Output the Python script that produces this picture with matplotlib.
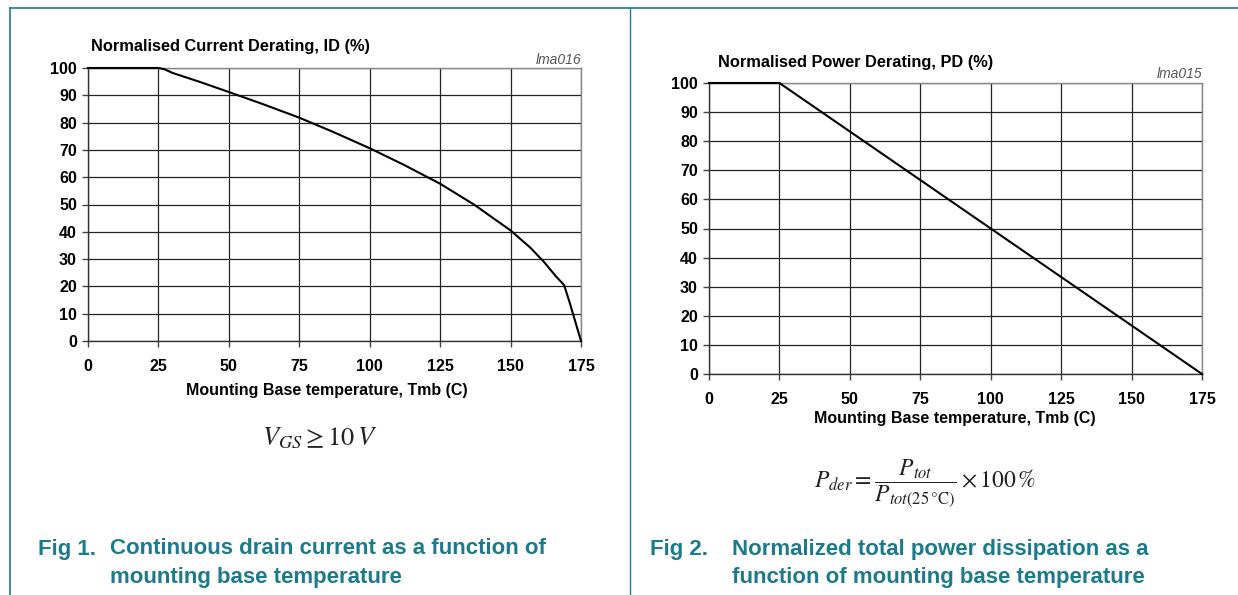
import matplotlib
matplotlib.use("Agg")
import matplotlib.pyplot as plt
from matplotlib.lines import Line2D

plt.rcParams['font.family'] = ['Liberation Sans', 'DejaVu Sans']
plt.rcParams['mathtext.fontset'] = 'stix'

# Data
temp_id = [0, 10, 20, 25, 27, 30, 40, 50, 62, 75, 87, 100, 112, 125, 137, 150, 157, 162, 166, 169, 171, 173, 175]
id_pct = [100, 100, 100, 100, 99.6, 98.2, 94.8, 91.2, 86.8, 81.8, 76.6, 70.6, 64.6, 57.6, 50, 40.5, 34.2, 28.8, 23.8, 20.5, 14, 7, 0]
temp_pd = [0, 25, 175]
pd_pct = [100, 100, 0]
xticks = [0, 25, 50, 75, 100, 125, 150, 175]
yticks = [0, 10, 20, 30, 40, 50, 60, 70, 80, 90, 100]

TEAL = '#1b7a8c'
W, H = 1238, 595
fig = plt.figure(figsize=(W / 100, H / 100), dpi=100)

def fx(px):
    return px / W

def fy(py):
    return 1 - py / H

def make_axes(rect, x, y, title, tag, tx, ty, tagy, xlab_x, xlab_y):
    ax = fig.add_axes(rect)
    ax.plot(x, y, color='black', lw=1.5, solid_joinstyle='round', clip_on=False, zorder=5)
    ax.set_xlim(0, 175)
    ax.set_ylim(0, 100)
    ax.set_xticks(xticks)
    ax.set_yticks(yticks)
    ax.tick_params(axis='both', labelsize=11.5, length=4, width=1, color='#444444', pad=4)
    for lab in ax.get_xticklabels() + ax.get_yticklabels():
        lab.set_fontweight('bold')
    ax.tick_params(axis='x', pad=9)
    ax.grid(True, color='#222222', lw=0.9)
    for s in ['top', 'right']:
        ax.spines[s].set_color('#888888')
        ax.spines[s].set_linewidth(1)
    for s in ['left', 'bottom']:
        ax.spines[s].set_color('#333333')
        ax.spines[s].set_linewidth(1)
    fig.text(fx(tx), fy(ty), title, fontsize=11.8, fontweight='bold', ha='left', va='center')
    fig.text(rect[0] + rect[2], fy(tagy), tag, fontsize=10, style='italic', color='#555555',
             ha='right', va='center')
    fig.text(fx(xlab_x), fy(xlab_y), 'Mounting Base temperature, Tmb (C)',
             fontsize=11.5, fontweight='bold', ha='center', va='center')
    return ax

ax1 = make_axes([fx(88), fy(341), fx(581) - fx(88), fy(68) - fy(341)],
                temp_id, id_pct, 'Normalised Current Derating, ID (%)', 'lma016',
                91, 47, 60, 327, 390)
ax2 = make_axes([fx(709), fy(374), fx(1202) - fx(709), fy(83) - fy(374)],
                temp_pd, pd_pct, 'Normalised Power Derating, PD (%)', 'lma015',
                718, 63, 74, 955, 418)

# Formulas
fig.text(fx(320), fy(438), r'$V_{GS} \geq 10\,V$', fontsize=19, ha='center', va='center', color='#222222')
fig.text(fx(925), fy(484), r'$P_{der} = \dfrac{P_{tot}}{P_{tot(25\,°\mathrm{C})}} \times 100\,\%$',
         fontsize=17, ha='center', va='center', color='#222222')

# Captions
cap_kw = dict(fontsize=16, fontweight='bold', color=TEAL, ha='left', va='center')
fig.text(fx(38), fy(549), 'Fig 1.', **cap_kw)
fig.text(fx(110), fy(549), 'Continuous drain current as a function of', **cap_kw)
fig.text(fx(110), fy(577), 'mounting base temperature', **cap_kw)
fig.text(fx(650), fy(549), 'Fig 2.', **cap_kw)
fig.text(fx(732), fy(549), 'Normalized total power dissipation as a', **cap_kw)
fig.text(fx(732), fy(577), 'function of mounting base temperature', **cap_kw)

# Frame lines
fig.add_artist(Line2D([fx(10), 1.0], [fy(8), fy(8)], color=TEAL, lw=1.2, transform=fig.transFigure))
fig.add_artist(Line2D([fx(10), fx(10)], [fy(8), 0], color=TEAL, lw=1.2, transform=fig.transFigure))
fig.add_artist(Line2D([fx(630), fx(630)], [fy(8), 0], color=TEAL, lw=1.0, transform=fig.transFigure))

fig.savefig('out.png', dpi=100)
